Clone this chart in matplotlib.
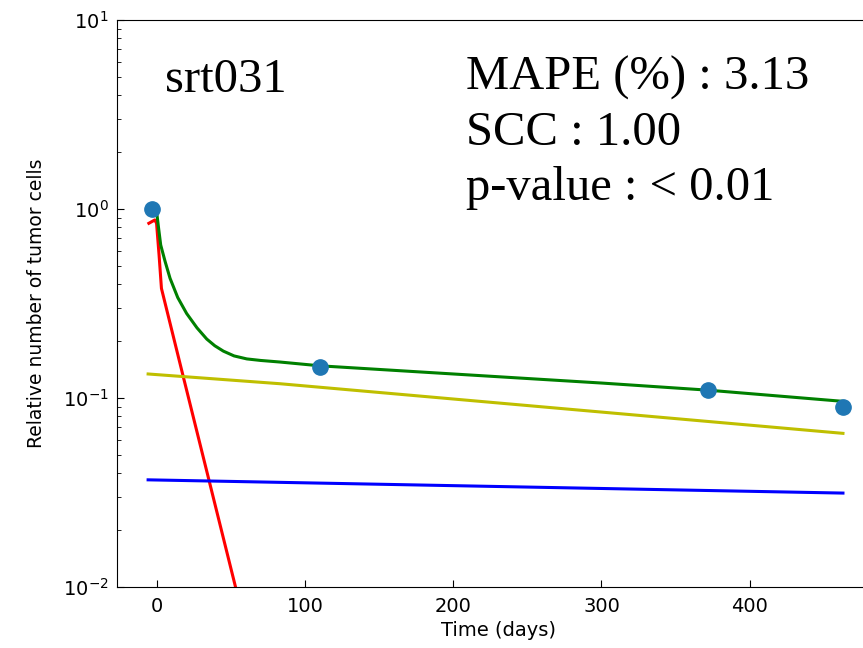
import matplotlib
matplotlib.use("Agg")
import matplotlib.pyplot as plt

# observed data
obs_days = [-3.5, 110, 372, 463]
obs_vals = [1.0, 0.146, 0.110, 0.090]

# total model (green)
green_days = [0, 1.0, 2.5, 5.4, 8.8, 14, 20, 27, 33.6, 39, 44.8, 52, 60.6, 70, 83, 110, 200, 300, 372, 463]
green_vals = [0.93, 0.80, 0.645, 0.53, 0.43, 0.34, 0.28, 0.235, 0.205, 0.189, 0.177, 0.167, 0.161, 0.158, 0.155, 0.148, 0.134, 0.120, 0.110, 0.096]

# sensitive population (red)
red_days = [-5.5, -1.5, -0.3, 1.4, 3.0, 17.8, 53.0, 56.0]
red_vals = [0.84, 0.875, 0.84, 0.57, 0.38, 0.129, 0.010, 0.008]

# yellow population
yellow_days = [-6, 83, 463]
yellow_vals = [0.134, 0.119, 0.065]

# blue population
blue_days = [-6, 463]
blue_vals = [0.0369, 0.0314]

xticks = [0, 100, 200, 300, 400]

fig = plt.figure(figsize=(8.63, 6.48), dpi=100)
ax = fig.add_axes([117/863, 61/648, 763/863, 567/648])

ax.plot(red_days, red_vals, color='r', lw=2.2)
ax.plot(yellow_days, yellow_vals, color='y', lw=2.2)
ax.plot(blue_days, blue_vals, color='b', lw=2.2)
ax.plot(green_days, green_vals, color='g', lw=2.2)
ax.plot(obs_days, obs_vals, 'o', color='#1f77b4', ms=11, zorder=5)

ax.set_yscale('log')
ax.set_ylim(1e-2, 1e1)
ax.set_xlim(-27, 488)
ax.set_xticks(xticks)
ax.tick_params(which='both', direction='in', labelsize=14)
ax.tick_params(axis='y', which='both', pad=6)
ax.tick_params(axis='x', which='both', pad=7)
ax.tick_params(which='major', length=5)
ax.tick_params(which='minor', length=3)
ax.spines['right'].set_visible(False)

ax.set_xlabel('Time (days)', fontsize=14)
ax.set_ylabel('Relative number of tumor cells', fontsize=13.5, labelpad=12)

serif = ['Liberation Serif', 'DejaVu Serif']
fs = 35
ax.text(0.063, 0.873, 'srt031', transform=ax.transAxes, fontsize=fs,
        family=serif, va='baseline', ha='left')
ax.text(0.457, 0.877, 'MAPE (%) : 3.13', transform=ax.transAxes, fontsize=fs,
        family=serif, va='baseline', ha='left')
ax.text(0.457, 0.780, 'SCC : 1.00', transform=ax.transAxes, fontsize=fs,
        family=serif, va='baseline', ha='left')
ax.text(0.457, 0.683, 'p-value : < 0.01', transform=ax.transAxes, fontsize=fs,
        family=serif, va='baseline', ha='left')

fig.savefig('out.png', dpi=100)
